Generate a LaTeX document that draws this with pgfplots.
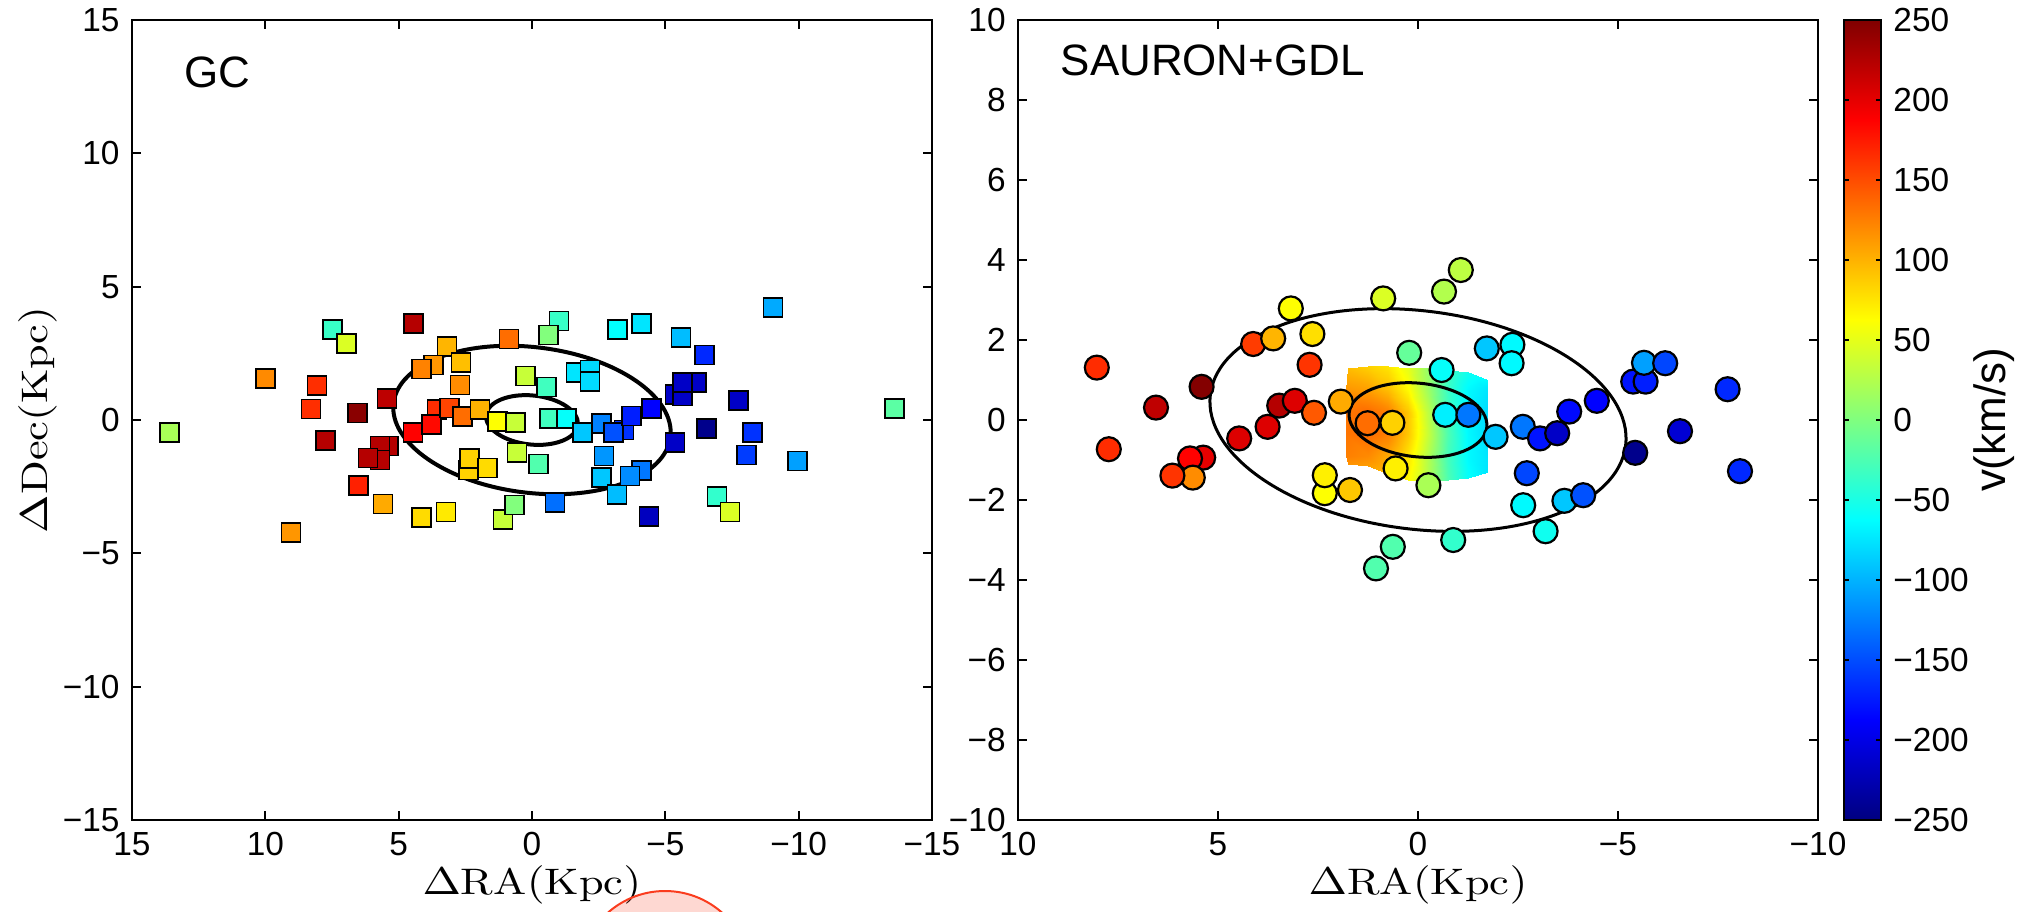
\documentclass[border=0pt]{standalone}
\usepackage{graphicx}
\usepackage{fontspec}
\usepackage{pgfplots}
\pgfplotsset{compat=1.18}
\newfontfamily\hel{Liberation Sans}

% globular clusters: offset in RA, offset in Dec, line-of-sight velocity
\pgfplotstableread{
x y v
13.60 -0.46 20
7.49 3.40 -35
6.95 2.87 45
10.00 1.55 120
8.07 1.29 165
8.28 0.42 165
6.55 0.27 245
7.75 -0.76 224
4.45 3.62 224
5.43 0.80 220
5.39 -0.98 224
5.70 -0.98 224
5.70 -1.50 224
6.15 -1.42 224
6.51 -2.46 172
5.59 -3.14 104
9.04 -4.21 114
4.14 -3.66 80
3.23 -3.44 73
1.08 -3.73 35
0.66 -3.19 1
-0.87 -3.10 -133
2.39 -1.88 85
2.35 -1.44 85
1.66 -1.80 80
0.57 -1.21 35
-0.24 -1.64 -23
4.47 -0.47 187
3.57 0.40 166
3.76 -0.16 183
3.10 0.45 154
2.61 0.13 134
1.95 0.40 100
1.29 -0.06 62
0.61 -0.09 35
-0.65 0.06 -31
-1.30 0.06 -60
0.24 1.66 35
-0.55 1.23 -31
0.87 3.03 134
-1.02 3.71 -35
-0.61 3.19 1
3.18 2.75 99
3.70 2.06 114
4.14 1.91 124
2.66 2.15 94
2.70 1.31 119
-1.65 1.79 -75
-2.18 1.88 -80
-2.18 1.44 -80
-1.90 -0.47 -90
-3.20 3.40 -62
-4.11 3.62 -75
-5.59 3.10 -95
-6.47 2.43 -168
-9.04 4.22 -104
-5.36 0.96 -215
-5.65 0.91 -215
-6.17 1.40 -215
-5.65 1.40 -215
-7.74 0.74 -215
-2.61 -0.13 -124
-3.45 -0.37 -163
-3.05 -0.47 -148
-3.74 0.15 -173
-4.49 0.44 -187
-5.36 -0.85 -215
-6.55 -0.31 -244
-8.26 -0.47 -163
-8.05 -1.31 -158
-9.96 -1.54 -109
-13.59 0.44 -18
-2.70 -1.34 -114
-2.61 -2.16 -90
-3.18 -2.79 -95
-4.11 -1.90 -129
-3.68 -2.09 -119
-6.93 -2.87 -38
-7.43 -3.44 45
-4.39 -3.62 -219
}\gctable

% discrete tracers over the central region
\pgfplotstableread{
x y v
8.03 1.31 166
7.73 -0.73 166
6.55 0.31 219
5.41 0.83 248
5.37 -0.94 200
5.70 -0.96 187
5.63 -1.44 119
6.14 -1.39 162
4.47 -0.46 204
3.76 -0.17 204
3.47 0.36 224
3.08 0.48 204
2.60 0.18 144
1.93 0.46 104
1.26 -0.08 134
0.64 -0.07 85
4.12 1.90 158
3.62 2.04 99
3.18 2.79 62
2.64 2.15 78
2.71 1.38 162
0.87 3.04 45
-0.65 3.21 25
-1.07 3.75 30
0.22 1.68 -13
-0.59 1.25 -60
-0.68 0.13 -70
-1.26 0.13 -129
-1.72 1.79 -90
2.33 -1.83 62
2.33 -1.38 70
1.70 -1.75 90
0.56 -1.21 70
-0.26 -1.63 21
0.63 -3.17 -23
1.05 -3.71 -23
-0.88 -3.00 -38
-2.36 1.88 -65
-2.34 1.42 -65
-1.94 -0.42 -90
-2.62 -0.17 -129
-3.05 -0.46 -178
-3.48 -0.33 -215
-3.78 0.21 -183
-4.47 0.48 -187
-5.43 -0.82 -244
-5.38 0.96 -178
-5.69 0.96 -173
-5.65 1.43 -109
-6.18 1.42 -153
-7.74 0.77 -168
-6.55 -0.28 -209
-8.05 -1.28 -168
-2.72 -1.33 -153
-2.63 -2.13 -65
-3.66 -2.02 -90
-4.13 -1.88 -148
-3.19 -2.78 -55
}\sgtable

% integral-field velocity map of the centre (8 columns per row)
\pgfplotstableread{
x y v
1.75 -1.10 115
1.25 -1.15 110
0.75 -1.35 95
0.25 -1.50 65
-0.25 -1.50 25
-0.75 -1.50 -25
-1.25 -1.45 -60
-1.75 -1.30 -75
1.80 -0.90 125
1.25 -0.90 120
0.75 -0.90 105
0.25 -0.90 75
-0.25 -0.90 25
-0.75 -0.90 -30
-1.25 -0.90 -65
-1.75 -0.90 -75
1.80 -0.35 130
1.25 -0.35 135
0.75 -0.35 125
0.25 -0.35 90
-0.25 -0.35 35
-0.75 -0.35 -25
-1.25 -0.35 -65
-1.75 -0.35 -80
1.80 0.20 130
1.25 0.20 135
0.75 0.20 125
0.25 0.20 90
-0.25 0.20 30
-0.75 0.20 -30
-1.25 0.20 -65
-1.75 0.20 -80
1.80 0.75 115
1.25 0.75 110
0.75 0.75 95
0.25 0.75 65
-0.25 0.75 15
-0.75 0.75 -35
-1.25 0.75 -65
-1.75 0.75 -75
1.75 1.30 95
1.25 1.35 85
0.75 1.35 75
0.25 1.30 50
-0.25 1.30 10
-0.75 1.25 -30
-1.25 1.20 -55
-1.75 1.00 -65
}\fieldtable

\pgfplotsset{
  panel/.style={
    scale only axis, width=80mm, height=80mm,
    axis line style={line width=0.2mm},
    every tick/.style={black, line width=0.2mm},
    major tick length=0.9mm,
    tick align=inside,
    tick pos=both,
    ticklabel style={font=\hel\fontsize{9.5}{11}\selectfont},
    x dir=reverse,
    colormap/jet,
    point meta min=-250, point meta max=250,
    every axis x label/.style={at={(axis description cs:0.5,0)}, anchor=center, yshift=-6.5mm},
    every axis y label/.style={at={(axis description cs:0,0.5)}, xshift=-9.45mm, rotate=90, anchor=center},
    label style={font=\fontsize{10.5}{12}\selectfont},
  },
  cluster marks/.style={scatter, only marks, point meta=explicit,
    scatter/use mapped color={draw=black, fill=mapped color}},
}
\tikzset{tag/.style={anchor=west, inner sep=0pt, font=\hel\fontsize{12.5}{14}\selectfont}}

\begin{document}
\begin{tikzpicture}

% ---------------- globular clusters ----------------
\begin{axis}[panel,
  xmin=-15, xmax=15, ymin=-15, ymax=15,
  xtick={-15,-10,-5,0,5,10,15},
  xticklabels={−15,−10,−5,0,5,10,15},
  ytick={-15,-10,-5,0,5,10,15},
  yticklabels={−15,−10,−5,0,5,10,15},
  xlabel={\scalebox{1.2}[1]{$\Delta\mathrm{RA(Kpc)}$}},
  ylabel={\scalebox{1.2}[1]{$\Delta\mathrm{Dec(Kpc)}$}},
]
\addplot[cluster marks, mark=square*, mark size=0.95mm, line width=0.15mm]
  table[x=x, y=y, meta=v] {\gctable};
\draw[line width=0.4mm, rotate around={-7:(axis cs:0,0)}]
  (axis cs:0,0) ellipse [x radius=5.23, y radius=2.73];
\draw[line width=0.4mm, rotate around={-6:(axis cs:0,0)}]
  (axis cs:0,0) ellipse [x radius=1.73, y radius=0.92];
\node[tag] at (axis description cs:0.065,0.935) {GC};
\end{axis}

% ---------------- SAURON + GDL ----------------
\begin{axis}[panel, at={(88.6mm,0mm)},
  xmin=-10, xmax=10, ymin=-10, ymax=10,
  xtick={-10,-5,0,5,10},
  xticklabels={−10,−5,0,5,10},
  ytick={-10,-8,-6,-4,-2,0,2,4,6,8,10},
  yticklabels={−10,−8,−6,−4,−2,0,2,4,6,8,10},
  xlabel={\scalebox{1.2}[1]{$\Delta\mathrm{RA(Kpc)}$}},
  colorbar,
  colorbar style={
    at={(parent axis.north east)}, anchor=north west, xshift=-0.4mm,
    width=3.7mm,
    axis line style={line width=0.15mm},
    every tick/.style={black, line width=0.15mm},
    major tick length=0.5mm,
    tick align=inside,
    ytick pos=both, yticklabel pos=right,
    ytick={-250,-200,-150,-100,-50,0,50,100,150,200,250},
    yticklabels={−250,−200,−150,−100,−50,0,50,100,150,200,250},
    ticklabel style={font=\hel\fontsize{9.5}{11}\selectfont},
    ylabel={v(km/s)},
    every axis y label/.style={at={(axis description cs:1,0.5)}, xshift=11.3mm,
      rotate=90, anchor=center, font=\hel\fontsize{12.5}{14}\selectfont},
  },
]
\addplot[surf, shader=interp, mesh/cols=8, point meta=explicit]
  table[x=x, y=y, meta=v] {\fieldtable};
\draw[line width=0.3mm, rotate around={-7:(axis cs:0,0)}]
  (axis cs:0,0) ellipse [x radius=5.23, y radius=2.73];
\draw[line width=0.3mm, rotate around={-6:(axis cs:0,0)}]
  (axis cs:0,0) ellipse [x radius=1.73, y radius=0.92];
\addplot[cluster marks, mark=*, mark size=1.2mm, line width=0.22mm]
  table[x=x, y=y, meta=v] {\sgtable};
\node[tag] at (axis description cs:0.0525,0.95) {SAURON+GDL};
\end{axis}

% highlight marker below the left panel
\draw[draw={rgb,255:red,250;green,60;blue,30}, line width=0.2mm,
  fill={rgb,255:red,250;green,60;blue,30}, fill opacity=0.2]
  (53.3mm,-15.7mm) circle [radius=8.6mm];

\pgfresetboundingbox
\useasboundingbox (-13.2mm,-9.1mm) rectangle (189.7mm,82mm);
\end{tikzpicture}
\end{document}
